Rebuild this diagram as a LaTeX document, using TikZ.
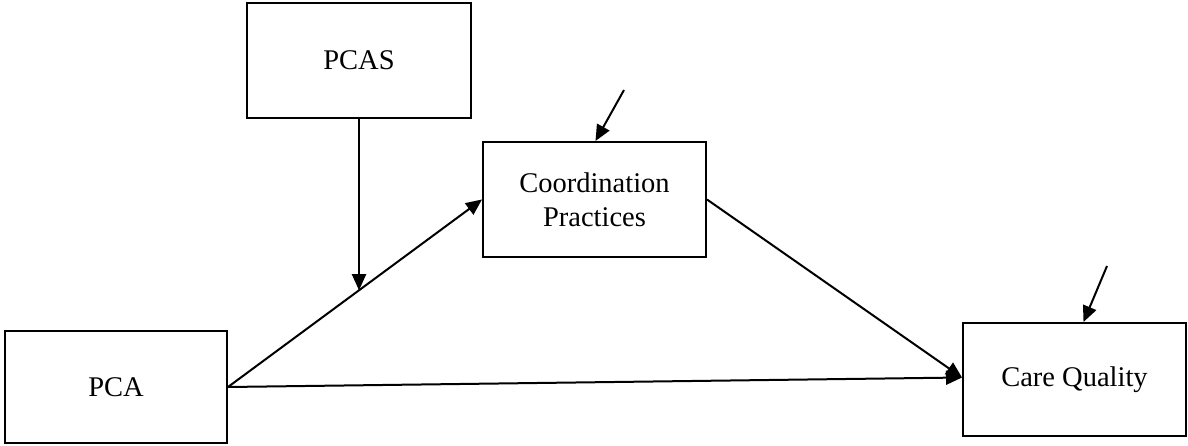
\documentclass[tikz,border=0pt]{standalone}
\usepackage{fontspec}
\setmainfont{Liberation Serif}
\usetikzlibrary{arrows.meta,calc}
\begin{document}
\begin{tikzpicture}[x=1pt,y=-1pt,
  box/.style={draw,line width=2pt,inner sep=0pt,align=center,
    font=\fontsize{28.5}{34}\selectfont},
  arr/.style={line width=2pt,-{Triangle[length=16pt,width=14pt]}}]
\useasboundingbox (0,0) rectangle (1188,446);
\node[box,minimum width=224,minimum height=115] (pcas) at (359,60.5) {PCAS};
\node[box,minimum width=223,minimum height=115] (coord) at (594.5,199.5) {Coordination\\Practices};
\node[box,minimum width=222,minimum height=112] (pca) at (116,387) {PCA};
\node[box,minimum width=223,minimum height=113] (care) at (1074.5,379.5) {Care Quality};
\coordinate (e1) at (624,90);
\coordinate (e2) at (1107,266);
\path (pca.east) -- (coord.west) coordinate[pos=0.516] (m);
\draw[arr] (pca.east) -- (coord.west);
\draw[arr] (pcas.south) -- (pcas.south |- m);
\draw[arr] (coord.east) -- ([yshift=2pt]care.west);
\draw[arr] (pca.east) -- ([yshift=2pt]care.west);
\draw[arr] (e1) -- ([xshift=1pt]coord.north);
\draw[arr] (e2) -- ([xshift=9pt]care.north);
\end{tikzpicture}
\end{document}
